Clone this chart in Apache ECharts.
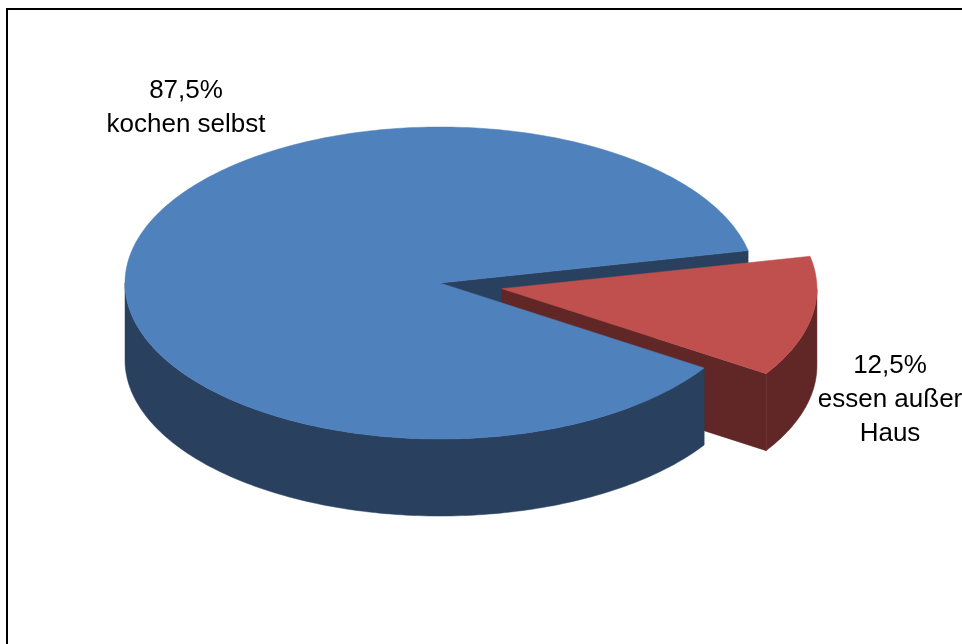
<!DOCTYPE html>
<html>
<head>
<meta charset="utf-8">
<script src="https://cdn.jsdelivr.net/npm/echarts@6/dist/echarts.min.js"></script>
<style>
  html, body { margin: 0; padding: 0; background: #ffffff; }
  #chart { width: 962px; height: 644px; }
</style>
</head>
<body>
<div id="chart"></div>
<script>
// Survey result: share of people who cook themselves vs. eat out
const categories = ['kochen selbst', 'essen außer Haus'];
const shares = [87.5, 12.5];
const shareLabels = ['87,5%', '12,5%'];
const categoryLabels = ['kochen selbst', 'essen außer\nHaus'];
const explodedSlices = [false, true];

// Styling
const topColors = ['#4F81BD', '#C0504D'];
const sideColors = ['#29415F', '#612726'];

// Geometry of the tilted pie (screen pixels)
const CX = 440, CY = 283;      // centre of the top face
const RX = 315, RY = 156;      // radii of the top ellipse
const DEPTH = 77;              // thickness of the disc
const START_ANGLE = 33;        // degrees, clockwise from 3 o'clock
const EXPLODE = 0.2;           // pull-out distance as a fraction of the radius
const labelAnchors = [[186, 74], [890, 349]];

const total = shares.reduce((a, b) => a + b, 0);
const rad = d => d * Math.PI / 180;

function ellipsePoint(cx, cy, deg, dy) {
  return [cx + RX * Math.cos(rad(deg)), cy + RY * Math.sin(rad(deg)) + (dy || 0)];
}

function arcPoints(cx, cy, a, b, dy) {
  const pts = [];
  const n = Math.max(2, Math.ceil(Math.abs(b - a)));
  for (let i = 0; i <= n; i++) pts.push(ellipsePoint(cx, cy, a + (b - a) * i / n, dy));
  return pts;
}

function renderSlice(params, api) {
  const i = params.dataIndex;
  const value = api.value(0);
  let before = 0;
  for (let k = 0; k < i; k++) before += shares[k];
  const a = START_ANGLE + before / total * 360;
  const b = a + value / total * 360;
  const mid = (a + b) / 2;
  let cx = CX, cy = CY;
  if (explodedSlices[i]) {
    cx += RX * EXPLODE * Math.cos(rad(mid));
    cy += RY * EXPLODE * Math.sin(rad(mid));
  }
  const children = [];
  const side = sideColors[i];

  // radial cut faces that turn towards the viewer
  [[a, -90], [b, 90]].forEach(([ang, turn]) => {
    if (Math.sin(rad(ang + turn)) > 0) {
      const p = ellipsePoint(cx, cy, ang);
      children.push({
        type: 'polygon',
        z2: 1 + Math.sin(rad(ang)),
        shape: { points: [[cx, cy], p, [p[0], p[1] + DEPTH], [cx, cy + DEPTH]] },
        style: { fill: side, stroke: side, lineWidth: 0.5 }
      });
    }
  });

  // outer wall: only the front half of the rim (0..180 deg) is visible
  for (let k = -1; k <= 1; k++) {
    const s = Math.max(a, 360 * k);
    const e = Math.min(b, 360 * k + 180);
    if (e > s) {
      const top = arcPoints(cx, cy, s, e, 0);
      const bottom = arcPoints(cx, cy, e, s, DEPTH);
      children.push({
        type: 'polygon',
        z2: 5,
        shape: { points: top.concat(bottom) },
        style: { fill: side, stroke: side, lineWidth: 0.5 }
      });
    }
  }

  // top face
  children.push({
    type: 'polygon',
    z2: 6,
    shape: { points: [[cx, cy]].concat(arcPoints(cx, cy, a, b, 0)) },
    style: { fill: topColors[i], stroke: topColors[i], lineWidth: 0.5 }
  });

  // data label
  children.push({
    type: 'text',
    z2: 10,
    style: {
      text: shareLabels[i] + '\n' + categoryLabels[i],
      x: labelAnchors[i][0],
      y: labelAnchors[i][1],
      fill: '#000000',
      fontSize: 26,
      fontFamily: '"Liberation Sans", Arial, sans-serif',
      align: 'center',
      verticalAlign: 'top',
      lineHeight: 34
    }
  });

  return { type: 'group', children };
}

const chart = echarts.init(document.getElementById('chart'), null, { renderer: 'canvas' });
chart.setOption({
  backgroundColor: '#ffffff',
  animation: false,
  graphic: [{
    type: 'rect',
    shape: { x: 7, y: 9, width: 1000, height: 700 },
    style: { fill: 'none', stroke: '#000000', lineWidth: 2 },
    silent: true
  }],
  series: [{
    type: 'custom',
    coordinateSystem: 'none',
    renderItem: renderSlice,
    data: shares.map((v, i) => ({ name: categories[i], value: [v] }))
  }]
});
</script>
</body>
</html>
